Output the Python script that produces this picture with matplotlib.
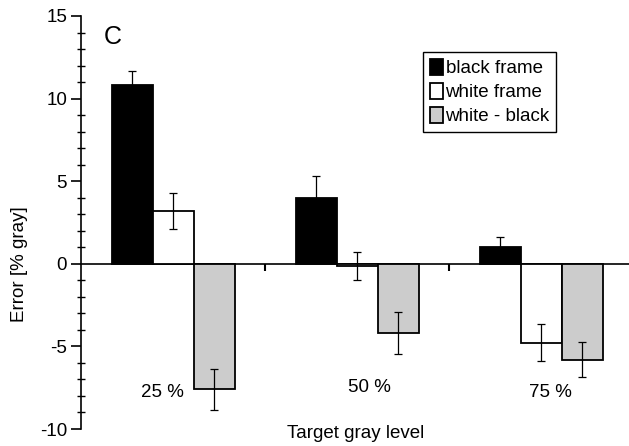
import numpy as np
import matplotlib.pyplot as plt
from matplotlib.ticker import MultipleLocator

plt.rcParams['font.family'] = ['Liberation Sans', 'DejaVu Sans']
plt.rcParams['axes.unicode_minus'] = False

groups = ['25 %', '50 %', '75 %']
series = ['black frame', 'white frame', 'white - black']
colors = ['black', 'white', '#cccccc']

black_vals = [10.8, 4.0, 1.0]
black_err = [0.87, 1.33, 0.65]
white_vals = [3.2, -0.16, -4.77]
white_err = [1.08, 0.85, 1.1]
diff_vals = [-7.6, -4.2, -5.8]
diff_err = [1.23, 1.28, 1.05]

# where the group labels sit (data coords)
label_x = [0.44, 1.565, 2.549]
label_y = [-7.8, -7.5, -7.8]

fs = 13.5

fig = plt.figure(figsize=(6.29, 4.46), dpi=100)
ax = fig.add_axes([81 / 629, 17 / 446, 548 / 629, 413 / 446])

w = 41 / 184
centers = np.arange(3) + 0.5
all_vals = [black_vals, white_vals, diff_vals]
all_err = [black_err, white_err, diff_err]

for i, (vals, errs) in enumerate(zip(all_vals, all_err)):
    x = centers + (i - 1) * w
    ax.bar(x, vals, width=w, color=colors[i], edgecolor='black',
           linewidth=1.3, label=series[i], zorder=2)
    ax.errorbar(x, vals, yerr=errs, fmt='none', ecolor='black',
                elinewidth=0.9, capsize=3, capthick=0.9, zorder=3)

ax.set_xlim(0, 548 / 184)
ax.set_ylim(-10, 15)

for s in ['top', 'right']:
    ax.spines[s].set_visible(False)
ax.spines['bottom'].set_position(('data', 0))
ax.spines['bottom'].set_linewidth(1.2)
ax.spines['left'].set_linewidth(1.2)
ax.spines['bottom'].set_zorder(1)

ax.set_xticks([1, 2])
ax.set_xticklabels([])
ax.tick_params(axis='x', direction='out', length=5, width=1.5)

ax.yaxis.set_major_locator(MultipleLocator(5))
ax.yaxis.set_minor_locator(MultipleLocator(1))
ax.tick_params(axis='y', which='major', direction='out', length=7, width=1.2,
               labelsize=fs, pad=3)
ax.tick_params(axis='y', which='minor', direction='inout', length=6, width=1.0)

for gx, gy, g in zip(label_x, label_y, groups):
    ax.text(gx, gy, g, ha='center', va='center', fontsize=fs)

ax.text(0.17, 13.7, 'C', fontsize=18, ha='center', va='center')

# y label is centred on the zero line in the original
fig.text(20 / 629, 1 - 264 / 446, 'Error [% gray]', rotation=90,
         ha='center', va='center', fontsize=fs)
fig.text(356 / 629, 1 - 433 / 446, 'Target gray level', ha='center',
         va='center', fontsize=fs)

leg = ax.legend(loc='upper left', bbox_to_anchor=(342 / 548, 1 - 36 / 413),
                fancybox=False, framealpha=1, edgecolor='black', fontsize=fs,
                handlelength=0.7, handleheight=0.95, handletextpad=0.15,
                borderpad=0.35, labelspacing=0.3, borderaxespad=0)
leg.get_frame().set_linewidth(1.0)

fig.savefig('out.png', dpi=100)
